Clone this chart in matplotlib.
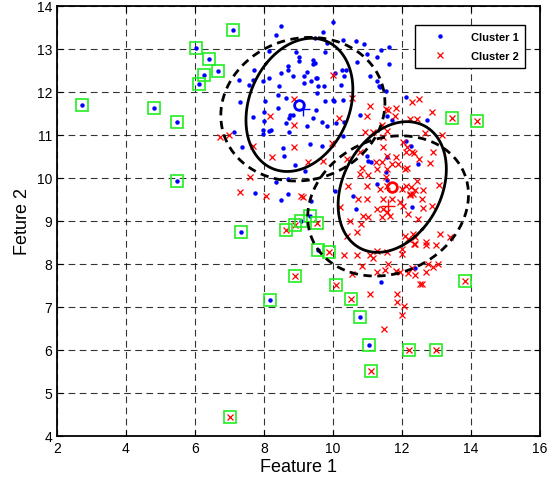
import numpy as np
import matplotlib
matplotlib.use("Agg")
import matplotlib.pyplot as plt

plt.rcParams['font.family'] = ['Liberation Sans', 'DejaVu Sans']

# cluster 1 (blue dots)
c1 = [(9.99,13.62),(8.49,13.54),(8.34,13.33),(9.49,13.26),(9.72,13.39),(10.30,13.21),(9.84,13.13),
      (10.67,13.19),(10.91,13.11),(11.64,13.04),(11.39,12.97),(11.00,12.89),(9.77,12.94),(8.15,12.95),
      (8.92,12.92),(9.01,12.81),(9.03,12.71),(9.43,12.75),(9.47,12.68),(9.42,12.64),(10.70,12.69),
      (11.64,12.64),(8.71,12.61),(8.69,12.50),(8.49,12.43),(9.26,12.47),(9.50,12.33),(9.54,12.32),
      (9.36,12.25),(9.17,12.20),(9.57,12.15),(9.74,12.14),(10.23,12.16),(10.25,12.52),(10.39,12.52),
      (10.33,12.36),(7.72,12.50),(7.67,12.29),(7.29,12.28),(8.14,12.33),(7.96,12.26),(8.43,12.15),
      (11.55,12.02),(11.36,12.12),(8.40,11.92),(8.65,11.85),(9.54,11.97),(9.76,11.78),(10.03,11.80),
      (10.28,11.82),(8.03,11.79),(7.32,11.76),(8.42,11.63),(7.99,11.53),(8.77,11.47),(8.74,11.40),
      (9.50,11.57),(10.78,11.47),(11.57,11.45),(11.71,11.35),(7.67,11.41),(8.65,11.28),(9.26,11.20),
      (9.41,11.39),(9.68,11.30),(9.84,11.21),(10.09,11.27),(10.31,11.31),(7.98,11.11),(7.96,11.02),
      (8.14,11.10),(8.74,11.06),(7.13,11.08),(7.36,10.71),(8.56,10.69),(8.59,10.50),(9.34,10.79),
      (9.68,10.75),(10.29,10.97),(8.89,10.31),(9.20,10.16),(11.00,10.51),(11.11,10.37),(8.34,9.90),
      (7.73,9.64),(10.06,9.70),(10.57,9.57),(11.55,10.13),(12.12,11.89),(12.12,10.87),(12.25,10.75),
      (12.47,10.33),(12.28,9.33),(12.38,7.91),(10.67,9.28),(11.39,7.57),(11.57,10.48),(11.28,9.85),
      (11.57,9.95),(11.02,10.40),(12.74,11.35),(9.38,9.46),(8.71,9.98),(8.49,9.49),(8.71,9.63),
      (8.20,11.12),(8.00,11.32),(8.84,11.46),(7.58,12.17),(8.83,12.38),(10.06,12.43),(11.27,12.81),
      (11.09,12.38),(11.28,12.26),(9.16,12.38),(10.01,11.81),(11.33,12.15)]

# cluster 2 (red crosses)
c2 = [(10.18,11.40),(11.00,11.45),(11.80,11.45),(12.88,11.53),(10.93,11.08),(11.17,11.08),(11.57,11.09),
      (12.67,11.05),(13.15,11.01),(11.46,10.71),(10.78,10.60),(10.40,10.44),(9.72,10.40),(9.28,10.37),
      (11.57,10.50),(11.83,10.48),(12.14,10.71),(12.28,10.60),(12.36,10.57),(12.09,10.21),(12.49,10.44),
      (12.81,10.34),(12.91,10.60),(11.25,10.37),(11.29,10.21),(11.41,10.37),(11.70,10.33),(11.89,10.33),
      (12.14,10.23),(11.57,10.21),(10.83,10.23),(10.78,10.09),(11.02,10.08),(10.44,9.82),(10.98,9.82),
      (11.36,9.74),(11.56,9.82),(11.54,10.02),(12.12,9.82),(12.43,9.92),(11.99,9.74),(12.23,9.63),
      (12.38,9.71),(12.60,9.72),(10.73,9.51),(10.98,9.51),(11.46,9.50),(11.70,9.50),(11.27,9.28),
      (11.44,9.28),(11.56,9.20),(11.94,9.43),(12.04,9.36),(12.57,9.51),(12.86,9.34),(10.22,9.33),
      (10.88,9.12),(11.02,9.09),(11.41,9.09),(11.65,9.11),(12.18,9.16),(12.47,9.05),(10.49,9.01),
      (10.81,8.93),(10.40,8.66),(10.70,8.74),(12.09,8.66),(12.18,8.58),(12.38,8.62),(12.38,8.47),
      (13.10,8.70),(13.39,8.62),(12.69,8.50),(12.70,8.43),(12.99,8.45),(11.29,8.31),(11.58,8.27),
      (11.07,8.22),(10.69,8.22),(10.33,8.22),(10.54,7.77),(10.83,7.96),(11.27,7.81),(11.51,7.86),
      (11.60,8.00),(11.84,7.83),(11.94,7.81),(12.18,7.78),(12.28,7.91),(12.70,7.81),(12.76,8.00),
      (13.05,8.00),(12.52,7.54),(12.57,7.54),(9.12,9.55),(9.99,12.40),(10.56,11.85),(11.09,11.67),
      (11.53,11.60),(8.87,11.84),(8.17,11.45),(8.86,11.23),(6.72,10.96),(6.99,11.01),(7.69,10.75),
      (8.87,10.73),(8.24,10.48),(7.59,10.03),(7.32,9.67),(8.06,9.57),(11.44,10.95),(9.09,9.58),
      (11.07,7.30),(11.86,7.30),(11.86,7.12),(12.07,7.02),(12.01,6.81),(11.49,6.49),(12.28,11.77),
      (12.50,11.84),(12.23,11.36),(12.44,11.36),(12.04,10.83),(12.12,10.60),(13.08,9.84),(12.25,9.80),
      (12.23,9.60),(12.33,9.62),(11.60,11.58),(11.84,11.63),(11.41,11.24),(9.96,10.81),(11.17,8.13),
      (12.31,8.70),(12.35,8.47),(12.91,7.94),(12.38,7.75),(11.99,8.35),(11.99,8.23),(12.60,9.30)]

# outliers (boxed in green)
c1_out = [(2.74,11.70),(4.81,11.62),(5.49,11.31),(5.49,9.93),(6.03,13.02),(6.12,12.18),(6.26,12.39),
          (6.41,12.77),(6.66,12.49),(7.10,13.44),(7.35,8.75),(9.09,8.99),(9.34,9.12),(9.58,8.33),
          (8.18,7.16),(10.78,6.76),(11.05,6.12)]
c2_out = [(8.64,8.80),(8.89,8.91),(9.54,8.96),(9.90,8.27),(8.89,7.73),(10.09,7.51),(10.52,7.19),
          (11.11,5.51),(12.21,5.99),(12.99,5.99),(7.03,4.43),(13.44,11.39),(14.18,11.32),(13.84,7.60)]

# ellipses: centre and covariance
c1_mean = (9.03, 11.70)
c1_cov = [[2.40, 0.55], [0.55, 2.40]]
c1_rmean = (9.13, 11.60)
c1_rcov = [[5.66, 0.35], [0.35, 2.79]]
c2_mean = (11.72, 9.79)
c2_cov = [[2.46, 0.65], [0.65, 2.31]]
c2_rmean = (11.60, 9.35)
c2_rcov = [[5.43, 0.60], [0.60, 2.66]]


def ellipse_xy(mean, cov, n=200):
    w, v = np.linalg.eigh(np.array(cov))
    t = np.linspace(0, 2 * np.pi, n)
    pts = v @ (np.sqrt(w)[:, None] * np.vstack([np.cos(t), np.sin(t)]))
    return pts[0] + mean[0], pts[1] + mean[1]


fig = plt.figure(figsize=(5.47, 4.81), dpi=100)
ax = fig.add_axes([0.104, 0.0915, 0.883, 0.894])

ax.grid(True, color='k', linestyle=(0, (6, 4)), linewidth=0.8, alpha=0.8)
ax.set_axisbelow(True)

c1 = np.array(c1); c2 = np.array(c2)
c1_out = np.array(c1_out); c2_out = np.array(c2_out)

ax.plot(c1[:, 0], c1[:, 1], 'o', color='blue', ms=3.2, mec='none', label='Cluster 1')
ax.plot(c2[:, 0], c2[:, 1], 'x', color='red', ms=4, mew=0.9, label='Cluster 2')
ax.plot(c1_out[:, 0], c1_out[:, 1], 'o', color='blue', ms=3.2, mec='none')
ax.plot(c2_out[:, 0], c2_out[:, 1], 'x', color='red', ms=4, mew=0.9)
allout = np.vstack([c1_out, c2_out])
ax.plot(allout[:, 0], allout[:, 1], 's', mfc='none', mec='#22ee22', ms=8.5, mew=1.2)

for m, c, ls in [(c1_mean, c1_cov, '-'), (c1_rmean, c1_rcov, '--'),
                 (c2_mean, c2_cov, '-'), (c2_rmean, c2_rcov, '--')]:
    ex, ey = ellipse_xy(m, c)
    if ls == '-':
        ax.plot(ex, ey, color='k', lw=2)
    else:
        ax.plot(ex, ey, color='k', lw=2, linestyle=(0, (3, 2)))

ax.plot(*c1_mean, 'o', mfc='none', mec='blue', ms=7, mew=2)
ax.plot(*c1_rmean, '+', color='blue', ms=10, mew=1)
ax.plot(*c2_mean, 'o', mfc='none', mec='red', ms=7, mew=2)
ax.plot(*c2_rmean, '+', color='red', ms=10, mew=1)

ax.set_xlim(2, 16)
ax.set_ylim(4, 14)
ax.set_xticks(np.arange(2, 17, 2))
ax.set_yticks(np.arange(4, 15, 1))
ax.tick_params(direction='in', top=True, right=True, labelsize=10, length=4)
for s in ax.spines.values():
    s.set_linewidth(1.3)
ax.set_xlabel('Feature 1', fontsize=13, labelpad=2)
ax.set_ylabel('Feture 2', fontsize=13, labelpad=4)

leg = ax.legend(loc='upper right', bbox_to_anchor=(0.97, 0.955), borderaxespad=0,
                fancybox=False, edgecolor='k', framealpha=1,
                prop={'weight': 'bold', 'size': 8}, handlelength=3.2, handletextpad=1.2,
                borderpad=0.6, labelspacing=0.8)
leg.get_frame().set_linewidth(1.0)

fig.savefig('out.png', dpi=100)
